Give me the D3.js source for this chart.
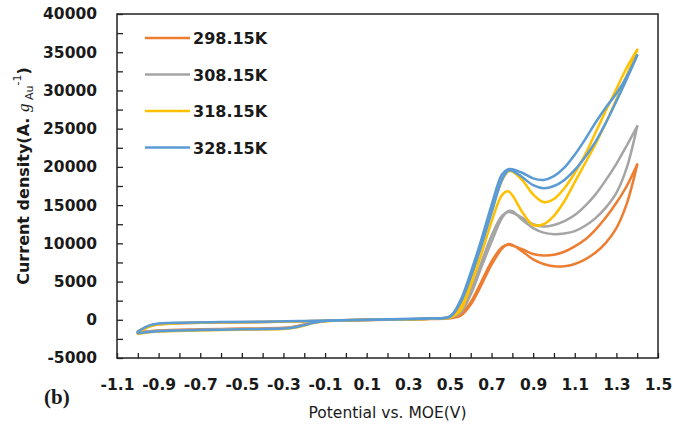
<!DOCTYPE html>
<html>
<head>
<meta charset="utf-8">
<script src="https://cdn.jsdelivr.net/npm/d3@7"></script>
<style>
  body { margin: 0; background: #fff; }
  svg text { fill: #1a1a1a; }
</style>
</head>
<body>
<svg id="chart" width="673" height="430"></svg>
<script>
// Cyclic voltammograms at four temperatures
const seriesNames = ["298.15K", "308.15K", "318.15K", "328.15K"];
const seriesColors = ["#ED7D31", "#A5A5A5", "#FFC000", "#5B9BD5"];

// Potential grids (V) for the anodic sweep and the return sweep
const potentialForward = [-1.0, -0.95, -0.9, -0.8, -0.6, -0.4, -0.2, 0.0, 0.2, 0.4, 0.5, 0.55, 0.6, 0.65, 0.7, 0.75, 0.78, 0.8, 0.85, 0.9, 0.95, 1.0, 1.05, 1.1, 1.15, 1.2, 1.25, 1.3, 1.35, 1.4];
const potentialReverse = [1.4, 1.35, 1.3, 1.25, 1.2, 1.15, 1.1, 1.05, 1.0, 0.95, 0.9, 0.85, 0.8, 0.78, 0.75, 0.7, 0.65, 0.6, 0.55, 0.5, 0.4, 0.2, 0.0, -0.1, -0.15, -0.2, -0.25, -0.3, -0.5, -0.7, -0.9, -1.0];

// Current density (A g_Au^-1), anodic sweep
const forward298 = [-1500, -900, -600, -450, -350, -300, -200, -100, 0, 100, 200, 500, 2000, 4500, 7200, 9300, 9900, 9800, 8900, 7900, 7300, 7000, 7000, 7300, 7900, 8800, 10100, 12000, 15200, 20300];
const forward308 = [-1550, -850, -550, -420, -330, -280, -180, -80, 20, 120, 250, 900, 3300, 6800, 10200, 13300, 14200, 14200, 13000, 12000, 11400, 11200, 11300, 11600, 12300, 13300, 14700, 16600, 19900, 25300];
const forward318 = [-1800, -950, -600, -450, -350, -280, -180, -80, 30, 150, 300, 1200, 4500, 8500, 12800, 16300, 16800, 16300, 14000, 12400, 12500, 13600, 15500, 18000, 20500, 23000, 25800, 28800, 32000, 35300];
const forward328 = [-1600, -800, -500, -380, -300, -250, -150, -50, 50, 180, 400, 2200, 5600, 9600, 14000, 18300, 19500, 19500, 18600, 17600, 17200, 17500, 18300, 19600, 21300, 23300, 25800, 28600, 31500, 34600];

// Current density (A g_Au^-1), return sweep
const reverse298 = [20300, 17500, 15300, 13400, 11800, 10500, 9600, 8900, 8500, 8400, 8600, 9200, 9700, 9800, 9500, 7600, 4900, 2300, 700, 300, 150, 50, -50, -150, -300, -600, -900, -1050, -1150, -1250, -1400, -1650];
const reverse308 = [25300, 22800, 20400, 18300, 16400, 14900, 13700, 12900, 12400, 12200, 12500, 13300, 14000, 14100, 13600, 11000, 7400, 3800, 1100, 300, 150, 50, -50, -150, -300, -650, -950, -1100, -1200, -1300, -1450, -1700];
const reverse318 = [35300, 33000, 30200, 27400, 24500, 21600, 19200, 17200, 15800, 15400, 16400, 18200, 19400, 19400, 18200, 14200, 9700, 5300, 1700, 350, 150, 50, -50, -200, -400, -750, -1050, -1200, -1300, -1400, -1550, -1850];
const reverse328 = [34600, 31800, 29600, 27800, 25800, 23600, 21600, 19900, 18800, 18300, 18500, 19200, 19700, 19700, 19000, 15000, 10400, 6200, 2500, 450, 200, 80, -30, -150, -350, -700, -1000, -1150, -1250, -1350, -1500, -1750];

const forwardCurrents = [forward298, forward308, forward318, forward328];
const reverseCurrents = [reverse298, reverse308, reverse318, reverse328];

// Axis ticks
const xTickLabels = [-1.1, -0.9, -0.7, -0.5, -0.3, -0.1, 0.1, 0.3, 0.5, 0.7, 0.9, 1.1, 1.3, 1.5];
const xMinorTicks = [-1.0, -0.8, -0.6, -0.4, -0.2, 0.0, 0.2, 0.4, 0.6, 0.8, 1.0, 1.2, 1.4];
const yTickLabels = [-5000, 0, 5000, 10000, 15000, 20000, 25000, 30000, 35000, 40000];
const yMinorTicks = [-2500, 2500, 7500, 12500, 17500, 22500, 27500, 32500, 37500];

const svg = d3.select("#chart");
const plot = { left: 117, top: 14, right: 658, bottom: 358 };

const x = d3.scaleLinear().domain([-1.1, 1.5]).range([plot.left, plot.right]);
const y = d3.scaleLinear().domain([-5000, 40000]).range([plot.bottom, plot.top]);

const tickFont = "'DejaVu Sans', sans-serif";

// Axes with inward ticks; labels use a plain hyphen for negatives
svg.append("g").attr("transform", `translate(0,${plot.bottom})`)
  .call(d3.axisBottom(x).tickValues(xTickLabels).tickSizeInner(-5).tickSizeOuter(0).tickPadding(21)
    .tickFormat(d => d.toFixed(1)));
svg.append("g").attr("transform", `translate(0,${plot.bottom})`)
  .call(d3.axisBottom(x).tickValues(xMinorTicks).tickSizeInner(-5).tickSizeOuter(0).tickFormat(""));
svg.append("g").attr("transform", `translate(${plot.left},0)`)
  .call(d3.axisLeft(y).tickValues(yTickLabels).tickSizeInner(-6).tickSizeOuter(0).tickPadding(20)
    .tickFormat(d => String(d)));
svg.append("g").attr("transform", `translate(${plot.left},0)`)
  .call(d3.axisLeft(y).tickValues(yMinorTicks).tickSizeInner(-6).tickSizeOuter(0).tickFormat(""));

svg.selectAll(".domain").remove();
svg.selectAll(".tick line").attr("stroke", "#222").attr("stroke-width", 1.3);
svg.selectAll(".tick text")
  .style("font-family", tickFont).style("font-size", "15.5px").style("font-weight", "bold")
  .attr("fill", "#1a1a1a");

// Plot frame
svg.append("rect")
  .attr("x", plot.left).attr("y", plot.top)
  .attr("width", plot.right - plot.left).attr("height", plot.bottom - plot.top)
  .attr("fill", "none").attr("stroke", "#222").attr("stroke-width", 1.5);

// Curves: each sweep drawn as its own path so the switching points stay sharp
const line = d3.line()
  .x(d => x(d[0])).y(d => y(d[1]))
  .curve(d3.curveCatmullRom.alpha(0.5));

const curves = svg.append("g");
seriesNames.forEach((name, i) => {
  const fwd = potentialForward.map((p, k) => [p, forwardCurrents[i][k]]);
  const rev = potentialReverse.map((p, k) => [p, reverseCurrents[i][k]]);
  [fwd, rev].forEach(pts => {
    curves.append("path")
      .attr("d", line(pts))
      .attr("fill", "none")
      .attr("stroke", seriesColors[i])
      .attr("stroke-width", 2.5)
      .attr("stroke-linejoin", "round")
      .attr("stroke-linecap", "round");
  });
});

// Legend
const legend = svg.append("g");
seriesNames.forEach((name, i) => {
  const ly = 38 + i * 36.5;
  legend.append("line")
    .attr("x1", 145).attr("x2", 190).attr("y1", ly).attr("y2", ly)
    .attr("stroke", seriesColors[i]).attr("stroke-width", 2.6);
  legend.append("text")
    .attr("x", 193).attr("y", ly + 6)
    .style("font-family", tickFont).style("font-size", "16px").style("font-weight", "bold")
    .text(name);
});

// Axis titles
svg.append("text")
  .attr("x", (plot.left + plot.right) / 2).attr("y", 418)
  .attr("text-anchor", "middle")
  .style("font-family", tickFont).style("font-size", "15.5px")
  .text("Potential vs. MOE(V)");

const yTitle = svg.append("text")
  .attr("transform", "translate(29,176) rotate(-90)")
  .attr("text-anchor", "middle")
  .style("font-family", tickFont).style("font-size", "16px").style("font-weight", "bold");
yTitle.append("tspan").text("Current density(A. ");
yTitle.append("tspan").style("font-style", "italic").style("font-weight", "normal")
  .style("font-family", "'Liberation Serif', serif").style("font-size", "17px").text("g");
yTitle.append("tspan").attr("dy", 4).style("font-size", "11px").style("font-weight", "normal").text(" Au");
yTitle.append("tspan").attr("dy", -12).style("font-size", "11px").style("font-weight", "normal").text("-1");
yTitle.append("tspan").attr("dy", 8).text(")");

// Panel tag
svg.append("text")
  .attr("x", 44).attr("y", 404)
  .style("font-family", "'Liberation Serif', serif").style("font-size", "21px").style("font-weight", "bold")
  .text("(b)");
</script>
</body>
</html>
